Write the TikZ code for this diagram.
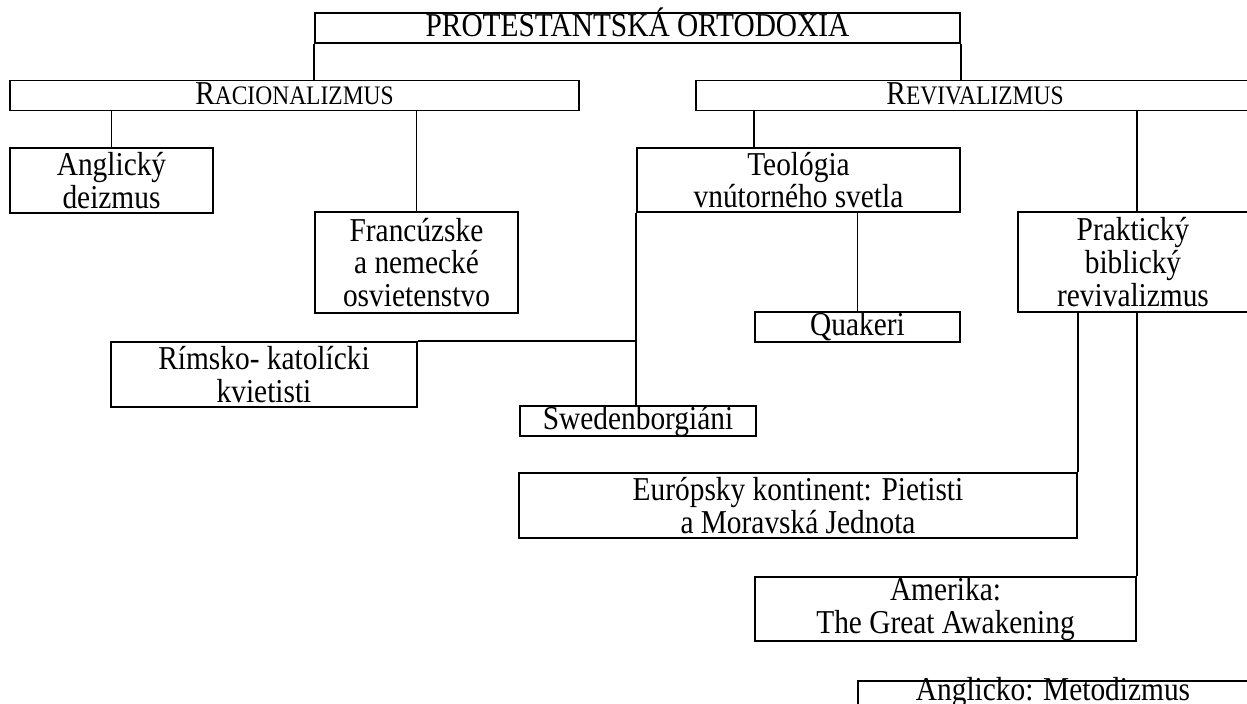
\documentclass[tikz,border=0pt]{standalone}
\usepackage{fontspec}
\setmainfont[FakeStretch=0.88]{Liberation Serif}
\tikzset{
	box/.style 2 args={draw, line width=1pt, inner sep=0pt, align=center,
		minimum width=#1*0.2mm, minimum height=#2*0.2mm,
		font=\fontsize{19}{18.7}\selectfont},
	onerow/.style={text height=13.5pt, text depth=3.5pt},
	link/.style={line width=1pt}
}
\newcommand\fakesc[2]{#1{\fontsize{15.2}{15}\selectfont #2}}
\begin{document}
\begin{tikzpicture}[x=0.2mm,y=-0.2mm]
		\useasboundingbox (0,0) rectangle (1247,704);
		\clip (0,0) rectangle (1247,704);
		
		\node[box={645}{30}, onerow] (prot) at (637.5,28) {PROTESTANTSKÁ ORTODOXIA};
		\node[box={569}{29}, onerow] (rac) at (294.5,95.5) {\fakesc{R}{ACIONALIZMUS}};
		\node[box={558}{29}, onerow] (rev) at (975,95.5) {\fakesc{R}{EVIVALIZMUS}};
		
		\node[box={203}{65}] (ang) at (111.5,180.5) {Anglický\\deizmus};
		\node[box={203}{101}] (fra) at (416.5,262.5) {Francúzske\\a nemecké\\osvietenstvo};
		\node[box={323}{64}] (teo) at (798.5,180) {Teológia\\vnútorného svetla};
		\node[box={230}{100}] (prak) at (1133,262) {Praktický\\biblický\\revivalizmus};
		
		\node[box={205}{30}, onerow] (qua) at (857.5,327) {Quakeri};
		\node[box={306}{65}] (rim) at (264,374.5) {Rímsko- katolícki\\kvietisti};
		\node[box={236}{30}, onerow] (swe) at (638,421) {Swedenborgiáni};
		\node[box={558}{65}] (eur) at (798,505.5) {Európsky kontinent: Pietisti\\a Moravská Jednota};
		\node[box={381}{64}] (ame) at (945.5,609) {Amerika:\\The Great Awakening};
		\node[box={390}{30}, text height=11.3pt, text depth=5.7pt, anchor=north] (angl) at (1053,680) {Anglicko: Metodizmus};
		
		\draw[link] (prot.south west) -- (prot.south west |- rac.north);
		\draw[link] (prot.south east) -- (prot.south east |- rev.north);
		\draw[link] (rac.south -| ang.north) -- (ang.north);
		\draw[link] (rac.south -| fra.north) -- (fra.north);
		\draw[link] (rev.south -| qua.west) -- (teo.north -| qua.west);
		\draw[link] (rev.south -| ame.east) -- (prak.north -| ame.east);
		\draw[link] (teo.south west) -- (teo.south west |- swe.north);
		\draw[link] (rim.north east) -- (rim.north east -| teo.south west);
		\draw[link] (teo.south -| qua.north) -- (qua.north);
		\draw[link] (prak.south -| eur.east) -- (eur.north east);
		\draw[link] (prak.south -| ame.east) -- (ame.north east);
	\end{tikzpicture}
\end{document}
